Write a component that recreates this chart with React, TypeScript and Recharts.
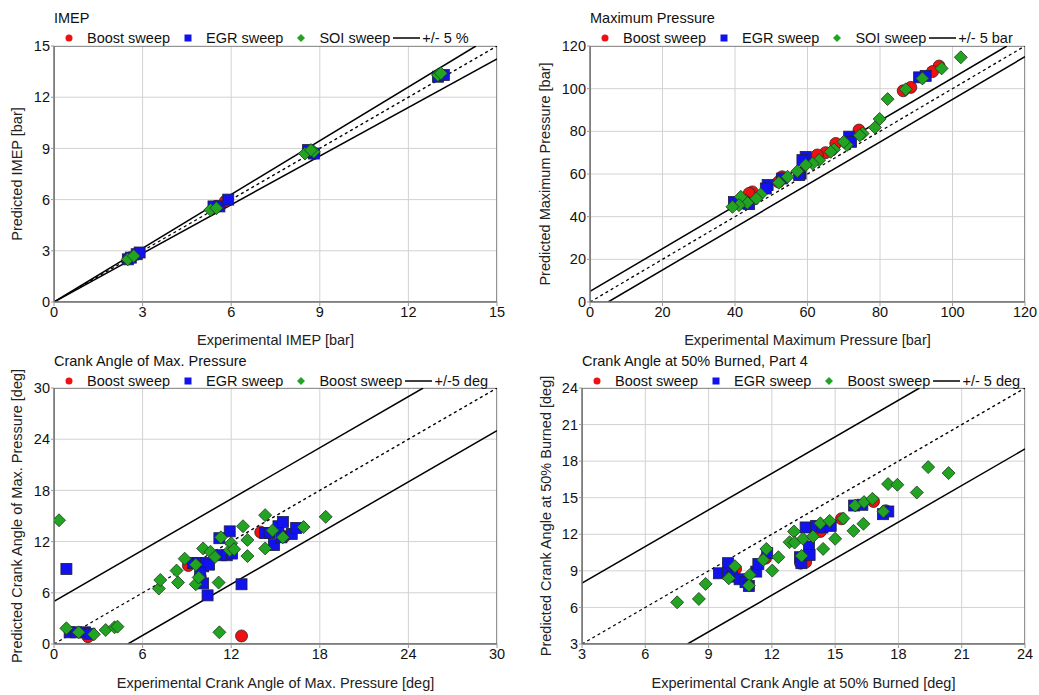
import React from 'react';
import {
  ScatterChart,
  Scatter,
  XAxis,
  YAxis,
  CartesianGrid,
  ReferenceLine,
  ReferenceArea,
  Legend,
} from 'recharts';

type Pt = { x: number; y: number };

// ---------- IMEP ----------
const imepBoost: Pt[] = [
  { x: 2.6, y: 2.6 }, { x: 2.8, y: 2.8 }, { x: 5.5, y: 5.6 }, { x: 5.8, y: 5.9 },
  { x: 8.6, y: 8.8 }, { x: 8.8, y: 8.7 }, { x: 13.1, y: 13.3 },
];
const imepEgr: Pt[] = [
  { x: 2.5, y: 2.5 }, { x: 2.6, y: 2.6 }, { x: 2.8, y: 2.8 }, { x: 2.9, y: 2.9 },
  { x: 5.4, y: 5.6 }, { x: 5.6, y: 5.6 }, { x: 5.9, y: 6.0 }, { x: 8.6, y: 8.9 },
  { x: 8.8, y: 8.7 }, { x: 13.0, y: 13.2 }, { x: 13.2, y: 13.3 },
];
const imepSoi: Pt[] = [
  { x: 2.5, y: 2.5 }, { x: 2.7, y: 2.7 }, { x: 5.3, y: 5.4 }, { x: 5.5, y: 5.5 },
  { x: 8.5, y: 8.7 }, { x: 8.8, y: 8.8 }, { x: 8.7, y: 8.9 }, { x: 13.0, y: 13.3 },
  { x: 13.1, y: 13.4 },
];

// ---------- Maximum Pressure ----------
const pmaxBoost: Pt[] = [
  { x: 96.3, y: 110.6 }, { x: 94.5, y: 108 }, { x: 88.5, y: 100.6 }, { x: 86.4, y: 99 },
  { x: 74.2, y: 80.6 }, { x: 67.8, y: 74.3 }, { x: 65, y: 70 }, { x: 62.7, y: 68.9 },
  { x: 53, y: 58.7 }, { x: 52, y: 56.3 }, { x: 44.8, y: 51.6 }, { x: 43.9, y: 50.9 },
  { x: 42.5, y: 47.7 },
];
const pmaxEgr: Pt[] = [
  { x: 90.8, y: 105.3 }, { x: 92.6, y: 106 }, { x: 71.5, y: 77.5 }, { x: 72, y: 75.1 },
  { x: 59.5, y: 68 }, { x: 58.6, y: 66.5 }, { x: 58.1, y: 60.2 }, { x: 57.7, y: 59.5 },
  { x: 49, y: 54.8 }, { x: 48.5, y: 53.2 }, { x: 53, y: 57.9 }, { x: 39.7, y: 46.9 },
  { x: 43.4, y: 46.2 }, { x: 43.9, y: 45.9 },
];
const pmaxSoi: Pt[] = [
  { x: 102.3, y: 114.7 }, { x: 97, y: 109.5 }, { x: 91.7, y: 104.8 }, { x: 87.1, y: 99.7 },
  { x: 82.1, y: 95.1 }, { x: 79.9, y: 85.8 }, { x: 78.6, y: 81.8 }, { x: 75.2, y: 79 },
  { x: 74.4, y: 78.1 }, { x: 70.9, y: 73.6 }, { x: 70, y: 75.1 }, { x: 67.3, y: 71.5 },
  { x: 66.4, y: 70.4 }, { x: 63.2, y: 66.5 }, { x: 61.4, y: 64.9 }, { x: 59.5, y: 64.2 },
  { x: 57.2, y: 61.3 }, { x: 54.5, y: 58.7 }, { x: 52.1, y: 55.9 }, { x: 47.1, y: 50.5 },
  { x: 45.9, y: 48.5 }, { x: 43.4, y: 46.5 }, { x: 41.6, y: 49.3 }, { x: 41.1, y: 45.4 },
  { x: 39.3, y: 44.6 },
];

// ---------- Crank Angle of Max. Pressure ----------
const capBoost: Pt[] = [
  { x: 9.1, y: 9.2 }, { x: 9.9, y: 7.9 }, { x: 12.7, y: 0.94 }, { x: 14.0, y: 13.1 },
  { x: 15.6, y: 12.6 }, { x: 2.3, y: 0.86 },
];
const capEgr: Pt[] = [
  { x: 0.84, y: 8.8 }, { x: 1.06, y: 1.37 }, { x: 1.5, y: 1.37 }, { x: 2.1, y: 1.37 },
  { x: 2.4, y: 1.2 }, { x: 9.4, y: 9.5 }, { x: 9.75, y: 9.5 }, { x: 10.1, y: 9.1 },
  { x: 10.3, y: 9.5 }, { x: 10.5, y: 9.3 }, { x: 9.9, y: 8.3 }, { x: 10.1, y: 7.1 },
  { x: 10.4, y: 5.7 }, { x: 11.2, y: 12.4 }, { x: 11.3, y: 10.4 }, { x: 11.7, y: 10.4 },
  { x: 11.9, y: 13.2 }, { x: 12.05, y: 10.6 }, { x: 12.7, y: 7.0 }, { x: 14.3, y: 13.0 },
  { x: 14.6, y: 13.0 }, { x: 14.9, y: 11.6 }, { x: 15.2, y: 13.8 }, { x: 15.5, y: 14.3 },
  { x: 15.4, y: 12.5 }, { x: 16.1, y: 12.9 }, { x: 16.4, y: 13.6 },
];
const capSoi: Pt[] = [
  { x: 0.34, y: 14.5 }, { x: 0.84, y: 1.84 }, { x: 1.67, y: 1.37 }, { x: 2.7, y: 1.13 },
  { x: 3.5, y: 1.64 }, { x: 4.1, y: 1.96 }, { x: 4.3, y: 2.03 }, { x: 7.1, y: 6.5 },
  { x: 7.2, y: 7.5 }, { x: 8.3, y: 8.6 }, { x: 8.4, y: 7.2 }, { x: 8.85, y: 10 },
  { x: 9.6, y: 7.0 }, { x: 9.6, y: 9.3 }, { x: 9.8, y: 7.8 }, { x: 10.1, y: 11.2 },
  { x: 10.6, y: 10.8 }, { x: 10.9, y: 10.2 }, { x: 11.15, y: 7.2 }, { x: 11.2, y: 1.37 },
  { x: 11.3, y: 12.5 }, { x: 11.9, y: 11.0 }, { x: 12.0, y: 11.8 }, { x: 12.2, y: 11.1 },
  { x: 12.8, y: 13.8 }, { x: 13.1, y: 12.2 }, { x: 13.1, y: 10.3 }, { x: 14.3, y: 11.2 },
  { x: 14.3, y: 15.1 }, { x: 14.8, y: 13.3 }, { x: 15.5, y: 12.5 }, { x: 16.9, y: 13.7 },
  { x: 18.4, y: 14.9 },
];

// ---------- Crank Angle at 50% Burned ----------
const ca50Boost: Pt[] = [
  { x: 10.28, y: 9.16 }, { x: 11.7, y: 10.04 }, { x: 13.36, y: 9.63 }, { x: 13.6, y: 9.71 },
  { x: 14.3, y: 12.23 }, { x: 15.3, y: 13.27 }, { x: 16.82, y: 14.69 }, { x: 17.4, y: 13.93 },
];
const ca50Egr: Pt[] = [
  { x: 9.49, y: 8.8 }, { x: 9.92, y: 9.63 }, { x: 9.92, y: 8.8 }, { x: 10.12, y: 8.53 },
  { x: 10.47, y: 8.31 }, { x: 10.75, y: 8.07 }, { x: 10.91, y: 7.76 }, { x: 11.26, y: 8.94 },
  { x: 11.36, y: 9.57 }, { x: 11.78, y: 10.45 }, { x: 13.33, y: 10.12 }, { x: 13.4, y: 9.63 },
  { x: 13.6, y: 12.56 }, { x: 13.76, y: 11.0 }, { x: 13.79, y: 10.31 }, { x: 14.1, y: 12.69 },
  { x: 14.4, y: 12.56 }, { x: 14.79, y: 12.69 }, { x: 15.9, y: 14.36 }, { x: 16.29, y: 14.42 },
  { x: 17.27, y: 13.65 }, { x: 17.52, y: 13.87 },
];
const ca50Soi: Pt[] = [
  { x: 7.51, y: 6.42 }, { x: 8.54, y: 6.7 }, { x: 8.86, y: 7.93 }, { x: 9.96, y: 8.39 },
  { x: 10.25, y: 9.38 }, { x: 10.96, y: 8.67 }, { x: 10.91, y: 7.79 }, { x: 11.59, y: 9.9 },
  { x: 11.74, y: 10.8 }, { x: 12.02, y: 9.02 }, { x: 12.31, y: 10.12 }, { x: 12.84, y: 11.35 },
  { x: 13.05, y: 12.23 }, { x: 13.08, y: 11.32 }, { x: 13.48, y: 11.63 }, { x: 13.41, y: 10.23 },
  { x: 13.95, y: 11.82 }, { x: 14.3, y: 12.9 }, { x: 14.43, y: 10.8 }, { x: 14.74, y: 13.1 },
  { x: 15.0, y: 11.63 }, { x: 15.39, y: 13.3 }, { x: 15.87, y: 12.28 }, { x: 15.95, y: 14.36 },
  { x: 16.34, y: 12.86 }, { x: 16.37, y: 14.64 }, { x: 16.77, y: 14.91 }, { x: 17.29, y: 13.87 },
  { x: 17.51, y: 16.12 }, { x: 17.95, y: 16.06 }, { x: 18.87, y: 15.43 }, { x: 19.41, y: 17.51 },
  { x: 20.38, y: 17.02 },
];

// ---------- axes ----------
const imepTicks = [0, 3, 6, 9, 12, 15];
const pmaxTicks = [0, 20, 40, 60, 80, 100, 120];
const capTicks = [0, 6, 12, 18, 24, 30];
const ca50Ticks = [3, 6, 9, 12, 15, 18, 21, 24];

type Band = { slope: number; intercept: number; dashed: boolean };
const pctBands: Band[] = [
  { slope: 1, intercept: 0, dashed: true },
  { slope: 1.05, intercept: 0, dashed: false },
  { slope: 0.95, intercept: 0, dashed: false },
];
const absBands: Band[] = [
  { slope: 1, intercept: 0, dashed: true },
  { slope: 1, intercept: 5, dashed: false },
  { slope: 1, intercept: -5, dashed: false },
];

const RED = '#ee1111';
const BLUE = '#1212ee';
const GREEN = '#22a322';
const FONT = '"Liberation Sans", Arial, sans-serif';
const FS = 14.5;

const CircleShape = (p: any) => (
  <circle cx={p.cx} cy={p.cy} r={6} fill={RED} stroke="#3a2020" strokeWidth={0.8} />
);
const SquareShape = (p: any) => (
  <rect x={p.cx - 5.5} y={p.cy - 5.5} width={11} height={11} fill={BLUE} stroke="#20203a" strokeWidth={0.8} />
);
const DiamondShape = (p: any) => (
  <polygon
    points={`${p.cx},${p.cy - 6.5} ${p.cx + 6.5},${p.cy} ${p.cx},${p.cy + 6.5} ${p.cx - 6.5},${p.cy}`}
    fill={GREEN}
    stroke="#203a20"
    strokeWidth={0.8}
  />
);

function clipSeg(b: Band, lo: number, hi: number) {
  const x1 = Math.max(lo, (lo - b.intercept) / b.slope);
  const x2 = Math.min(hi, (hi - b.intercept) / b.slope);
  return [
    { x: x1, y: b.slope * x1 + b.intercept },
    { x: x2, y: b.slope * x2 + b.intercept },
  ];
}

function LegendRow({ third, band }: { third: string; band: string }) {
  return (
    <div
      style={{
        display: 'flex',
        alignItems: 'center',
        whiteSpace: 'nowrap',
        fontSize: FS,
        lineHeight: '16px',
        color: '#111',
        fontFamily: FONT,
      }}
    >
      <svg width={8} height={8}>
        <circle cx={4} cy={4} r={3.5} fill={RED} />
      </svg>
      <span style={{ marginLeft: 14 }}>Boost sweep</span>
      <svg width={8} height={8} style={{ marginLeft: 14 }}>
        <rect x={0.5} y={0.5} width={7} height={7} fill={BLUE} />
      </svg>
      <span style={{ marginLeft: 14 }}>EGR sweep</span>
      <svg width={8} height={8} style={{ marginLeft: 14 }}>
        <polygon points="4,0 8,4 4,8 0,4" fill={GREEN} />
      </svg>
      <span style={{ marginLeft: 14 }}>{third}</span>
      <svg width={27} height={8} style={{ marginLeft: 3 }}>
        <line x1={0} y1={4} x2={27} y2={4} stroke="#000" strokeWidth={1.5} />
      </svg>
      <span style={{ marginLeft: 2 }}>{band}</span>
    </div>
  );
}

interface PanelProps {
  left: number;
  top: number;
  width: number;
  height: number;
  marginTop: number;
  marginRight: number;
  yAxisWidth: number;
  xAxisHeight: number;
  domain: [number, number];
  ticks: number[];
  boost: Pt[];
  egr: Pt[];
  third: Pt[];
  bands: Band[];
  title: string;
  thirdName: string;
  bandName: string;
  xLabel: string;
  yLabel: string;
  yLabelX: number;
  xLabelFromBottom: number;
  titleTop: number;
  legendTop: number;
}

function Panel(p: PanelProps) {
  const [lo, hi] = p.domain;
  const tickStyle = { fill: '#111', fontSize: FS, fontFamily: FONT };
  return (
    <div style={{ position: 'absolute', left: p.left, top: p.top, width: p.width, height: p.height }}>
      <div
        style={{
          position: 'absolute',
          left: p.yAxisWidth,
          top: p.titleTop,
          fontSize: FS,
          lineHeight: '16px',
          color: '#111',
          fontFamily: FONT,
          whiteSpace: 'nowrap',
        }}
      >
        {p.title}
      </div>
      <ScatterChart
        width={p.width}
        height={p.height}
        margin={{ top: p.marginTop, right: p.marginRight, bottom: 0, left: 0 }}
        style={{ fontFamily: FONT }}
      >
        <CartesianGrid stroke="#d2d2d2" strokeWidth={1} />
        <XAxis
          type="number"
          dataKey="x"
          domain={p.domain}
          ticks={p.ticks}
          interval={0}
          allowDataOverflow
          height={p.xAxisHeight}
          tick={tickStyle}
          tickSize={4}
          tickMargin={1}
          tickLine={{ stroke: '#999' }}
          axisLine={{ stroke: '#777', strokeWidth: 1.5 }}
          label={{
            content: (lp: any) => {
              const vb = lp.viewBox || {};
              const cx = vb.x + vb.width / 2;
              const cy = vb.y + vb.height - p.xLabelFromBottom;
              return (
                <text x={cx} y={cy} textAnchor="middle" dominantBaseline="central" fontSize={FS} fill="#222" fontFamily={FONT}>
                  {p.xLabel}
                </text>
              );
            },
          }}
        />
        <YAxis
          type="number"
          dataKey="y"
          domain={p.domain}
          ticks={p.ticks}
          interval={0}
          allowDataOverflow
          width={p.yAxisWidth}
          tick={tickStyle}
          tickSize={3}
          tickMargin={1}
          tickLine={{ stroke: '#999' }}
          axisLine={{ stroke: '#777', strokeWidth: 1.5 }}
          label={{
            content: (lp: any) => {
              const vb = lp.viewBox || {};
              const cx = p.yLabelX;
              const cy = vb.y + vb.height / 2;
              return (
                <text
                  x={cx}
                  y={cy}
                  transform={`rotate(-90 ${cx} ${cy})`}
                  textAnchor="middle"
                  dominantBaseline="central"
                  fontSize={FS}
                  fill="#222"
                  fontFamily={FONT}
                >
                  {p.yLabel}
                </text>
              );
            },
          }}
        />
        <ReferenceArea x1={lo} x2={hi} y1={lo} y2={hi} fill="none" fillOpacity={0} stroke="#777" strokeWidth={1.5} ifOverflow="hidden" />
        {p.bands.map((b, i) => (
          <ReferenceLine
            key={i}
            segment={clipSeg(b, lo, hi)}
            stroke="#000"
            strokeWidth={b.dashed ? 1.3 : 1.5}
            strokeDasharray={b.dashed ? '3 3' : undefined}
            ifOverflow="hidden"
          />
        ))}
        <Legend
          verticalAlign="middle"
          align="center"
          layout="horizontal"
          wrapperStyle={{ top: p.legendTop, left: p.yAxisWidth + 11, width: 'auto', margin: 0 }}
          content={() => <LegendRow third={p.thirdName} band={p.bandName} />}
        />
        <Scatter name="Boost sweep" data={p.boost} shape={CircleShape} isAnimationActive={false} />
        <Scatter name="EGR sweep" data={p.egr} shape={SquareShape} isAnimationActive={false} />
        <Scatter name={p.thirdName} data={p.third} shape={DiamondShape} isAnimationActive={false} />
      </ScatterChart>
    </div>
  );
}

export default function App() {
  return (
    <div style={{ position: 'absolute', left: 0, top: 0, width: 1039, height: 695, background: '#fff', fontFamily: FONT }}>
      <Panel
        left={0} top={0} width={519} height={350}
        marginTop={46} marginRight={22} yAxisWidth={54} xAxisHeight={48}
        domain={[0, 15]} ticks={imepTicks}
        boost={imepBoost} egr={imepEgr} third={imepSoi} bands={pctBands}
        title="IMEP" thirdName="SOI sweep" bandName="+/- 5 %"
        xLabel="Experimental IMEP [bar]" yLabel="Predicted IMEP [bar]"
        yLabelX={17} xLabelFromBottom={10} titleTop={10} legendTop={30}
      />
      <Panel
        left={519} top={0} width={520} height={350}
        marginTop={46} marginRight={14} yAxisWidth={71} xAxisHeight={48}
        domain={[0, 120]} ticks={pmaxTicks}
        boost={pmaxBoost} egr={pmaxEgr} third={pmaxSoi} bands={absBands}
        title="Maximum Pressure" thirdName="SOI sweep" bandName="+/- 5 bar"
        xLabel="Experimental Maximum Pressure [bar]" yLabel="Predicted Maximum Pressure [bar]"
        yLabelX={26} xLabelFromBottom={10} titleTop={10} legendTop={30}
      />
      <Panel
        left={0} top={347} width={519} height={348}
        marginTop={41} marginRight={22} yAxisWidth={54} xAxisHeight={51}
        domain={[0, 30]} ticks={capTicks}
        boost={capBoost} egr={capEgr} third={capSoi} bands={absBands}
        title="Crank Angle of Max. Pressure" thirdName="Boost sweep" bandName="+/-5 deg"
        xLabel="Experimental Crank Angle of Max. Pressure [deg]" yLabel="Predicted Crank Angle of Max. Pressure [deg]"
        yLabelX={17} xLabelFromBottom={12} titleTop={6} legendTop={26}
      />
      <Panel
        left={519} top={347} width={520} height={348}
        marginTop={41} marginRight={14} yAxisWidth={63} xAxisHeight={51}
        domain={[3, 24]} ticks={ca50Ticks}
        boost={ca50Boost} egr={ca50Egr} third={ca50Soi} bands={absBands}
        title="Crank Angle at 50% Burned, Part 4" thirdName="Boost sweep" bandName="+/- 5 deg"
        xLabel="Experimental Crank Angle at 50% Burned [deg]" yLabel="Predicted Crank Angle at 50% Burned [deg]"
        yLabelX={27} xLabelFromBottom={12} titleTop={6} legendTop={26}
      />
    </div>
  );
}
